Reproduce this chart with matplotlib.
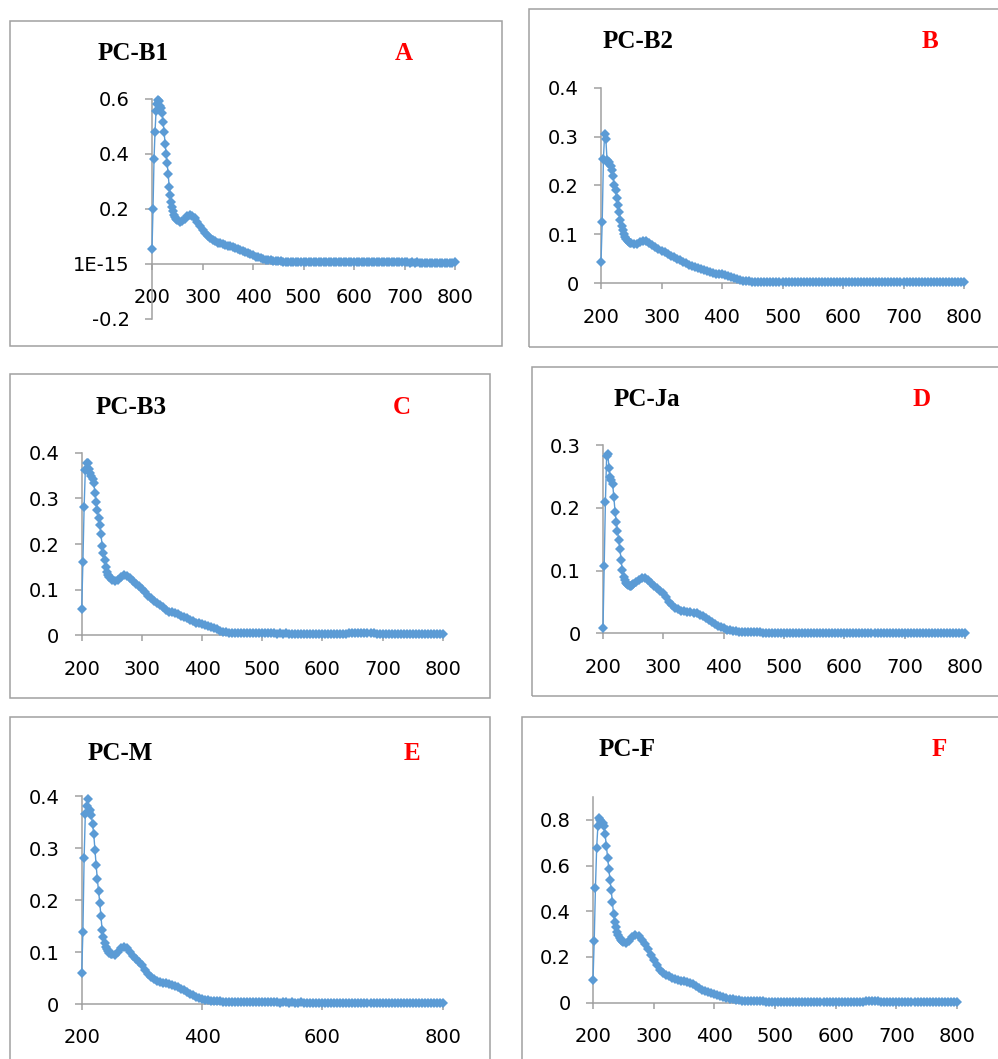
import matplotlib
matplotlib.use("Agg")
import matplotlib.pyplot as plt
from matplotlib.patches import Rectangle

# wavelength grid (nm), shared by all six spectra
wl = [200, 202, 204, 206, 208, 210, 212, 214, 216, 218, 220, 222, 224, 226, 228,
      230, 232, 234, 236, 238, 240, 242, 244, 246, 248, 250,
      255, 260, 265, 270, 275, 280, 285, 290, 295, 300, 305, 310, 315, 320,
      325, 330, 335, 340, 345, 350, 355, 360, 365, 370, 375, 380, 385, 390,
      395, 400, 405, 410, 415, 420, 425, 430, 435, 440, 445, 450,
      455, 460, 465, 470, 475, 480, 485, 490, 495, 500,
      505, 510, 515, 520, 525, 530, 535, 540, 545, 550,
      555, 560, 565, 570, 575, 580, 585, 590, 595, 600,
      605, 610, 615, 620, 625, 630, 635, 640, 645, 650,
      655, 660, 665, 670, 675, 680, 685, 690, 695, 700,
      705, 710, 715, 720, 725, 730, 735, 740, 745, 750,
      755, 760, 765, 770, 775, 780, 785, 790, 795, 800]

abs_b1 = [0.052, 0.20, 0.38, 0.48, 0.555, 0.58, 0.595, 0.59, 0.575, 0.565, 0.548,
          0.515, 0.478, 0.435, 0.40, 0.368, 0.328, 0.28, 0.25, 0.225, 0.205, 0.19,
          0.178, 0.17, 0.163, 0.158,
          0.153, 0.155, 0.163, 0.172, 0.176, 0.174, 0.165, 0.152, 0.138, 0.124,
          0.11, 0.099, 0.092, 0.086, 0.081, 0.077, 0.074, 0.071, 0.068, 0.066,
          0.063, 0.061, 0.058, 0.054, 0.050, 0.046, 0.042, 0.038, 0.034, 0.030,
          0.026, 0.023, 0.020, 0.017, 0.015, 0.013, 0.012, 0.011, 0.010, 0.0095,
          0.0085, 0.008, 0.0078, 0.0075, 0.0072, 0.007, 0.007, 0.0068, 0.0066, 0.0065,
          0.0064, 0.0062, 0.006, 0.0062, 0.006, 0.0058, 0.006, 0.0057, 0.0056, 0.0058,
          0.0055, 0.0054, 0.0056, 0.0053, 0.0052, 0.0055, 0.0051, 0.0052, 0.005, 0.0052,
          0.005, 0.0049, 0.0051, 0.0048, 0.005, 0.0047, 0.0049, 0.0046, 0.0048, 0.0047,
          0.005, 0.0052, 0.0049, 0.0046, 0.0047, 0.0045, 0.0046, 0.0044, 0.0046, 0.0048,
          0.0045, 0.0043, 0.0044, 0.0042, 0.0044, 0.0041, 0.0043, 0.0042, 0.004, 0.0042,
          0.0041, 0.0039, 0.0041, 0.004, 0.0038, 0.004, 0.0039, 0.0041, 0.0042, 0.0055]

abs_b2 = [0.043, 0.125, 0.255, 0.305, 0.295, 0.252, 0.245, 0.248, 0.24, 0.232, 0.22,
          0.20, 0.19, 0.175, 0.16, 0.145, 0.13, 0.118, 0.108, 0.10, 0.094, 0.09,
          0.087, 0.085, 0.083, 0.082,
          0.080, 0.081, 0.085, 0.087, 0.086, 0.083, 0.079, 0.075, 0.071, 0.067,
          0.063, 0.059, 0.056, 0.053, 0.050, 0.047, 0.044, 0.041, 0.038, 0.036,
          0.034, 0.032, 0.030, 0.028, 0.026, 0.024, 0.022, 0.020, 0.019, 0.018,
          0.017, 0.015, 0.013, 0.011, 0.009, 0.007, 0.0055, 0.0045, 0.004, 0.0035,
          0.0032, 0.003, 0.0028, 0.0031, 0.0027, 0.003, 0.0026, 0.0029, 0.0025, 0.0028,
          0.0026, 0.0024, 0.0027, 0.0025, 0.0023, 0.0026, 0.0024, 0.0027, 0.0023, 0.0025,
          0.0022, 0.0024, 0.0026, 0.0023, 0.0021, 0.0024, 0.0022, 0.0025, 0.0021, 0.0023,
          0.0022, 0.0026, 0.0024, 0.0021, 0.0023, 0.0027, 0.0024, 0.0022, 0.0025, 0.0021,
          0.0023, 0.0026, 0.0022, 0.0024, 0.0021, 0.0023, 0.0028, 0.0022, 0.0024, 0.0021,
          0.0023, 0.0021, 0.0024, 0.0022, 0.002, 0.0023, 0.0021, 0.0019, 0.0022, 0.0024,
          0.002, 0.0022, 0.0019, 0.0021, 0.0023, 0.002, 0.0022, 0.0021, 0.0024, 0.0026]

abs_b3 = [0.057, 0.161, 0.28, 0.362, 0.377, 0.377, 0.365, 0.356, 0.35, 0.342, 0.333,
          0.312, 0.293, 0.274, 0.258, 0.242, 0.222, 0.196, 0.18, 0.165, 0.15, 0.139,
          0.132, 0.128, 0.125, 0.122,
          0.120, 0.121, 0.127, 0.131, 0.130, 0.125, 0.118, 0.112, 0.107, 0.101,
          0.094, 0.087, 0.081, 0.076, 0.071, 0.066, 0.061, 0.056, 0.052, 0.050,
          0.048, 0.046, 0.043, 0.040, 0.037, 0.034, 0.031, 0.028, 0.026, 0.025,
          0.023, 0.021, 0.018, 0.016, 0.013, 0.010, 0.008, 0.007, 0.006, 0.0055,
          0.0052, 0.005, 0.0048, 0.0047, 0.0046, 0.0045, 0.0044, 0.0045, 0.0043, 0.0042,
          0.0043, 0.0041, 0.004, 0.0042, 0.0039, 0.004, 0.0038, 0.0041, 0.0037, 0.0039,
          0.0038, 0.0036, 0.0039, 0.0037, 0.0035, 0.0038, 0.0036, 0.0035, 0.0037, 0.0034,
          0.0036, 0.0035, 0.0037, 0.0034, 0.0036, 0.0035, 0.0038, 0.0036, 0.0041, 0.0048,
          0.0056, 0.006, 0.0057, 0.0052, 0.0047, 0.0043, 0.004, 0.0038, 0.0037, 0.0039,
          0.0036, 0.0035, 0.0037, 0.0034, 0.0033, 0.0035, 0.0032, 0.0034, 0.0031, 0.0033,
          0.0031, 0.003, 0.0032, 0.0029, 0.003, 0.0028, 0.003, 0.0029, 0.0031, 0.0035]

abs_ja = [0.008, 0.107, 0.21, 0.283, 0.286, 0.263, 0.25, 0.245, 0.238, 0.217, 0.194,
          0.178, 0.164, 0.149, 0.135, 0.117, 0.101, 0.09, 0.085, 0.08, 0.078, 0.077,
          0.075, 0.076, 0.077, 0.079,
          0.082, 0.085, 0.088, 0.088, 0.085, 0.080, 0.076, 0.072, 0.068, 0.064,
          0.058, 0.050, 0.045, 0.041, 0.038, 0.036, 0.035, 0.034, 0.034, 0.033,
          0.032, 0.030, 0.027, 0.024, 0.021, 0.018, 0.015, 0.012, 0.010, 0.008,
          0.006, 0.0045, 0.0035, 0.003, 0.0025, 0.002, 0.002, 0.0018, 0.0016, 0.0015,
          0.0014, 0.0013, 0.0012, 0.0012, 0.0011, 0.0011, 0.001, 0.0011, 0.001, 0.0009,
          0.001, 0.0009, 0.0009, 0.001, 0.0008, 0.0009, 0.0008, 0.0009, 0.0008, 0.0007,
          0.0008, 0.0007, 0.0009, 0.0007, 0.0006, 0.0008, 0.0007, 0.0009, 0.0007, 0.0006,
          0.0008, 0.0007, 0.0006, 0.0008, 0.0007, 0.0006, 0.0008, 0.0007, 0.0009, 0.0006,
          0.0008, 0.0007, 0.0009, 0.0008, 0.0006, 0.0008, 0.001, 0.0008, 0.0007, 0.0006,
          0.0008, 0.0007, 0.0006, 0.0008, 0.0007, 0.0006, 0.0008, 0.0007, 0.0006, 0.0008,
          0.0007, 0.0006, 0.0008, 0.0007, 0.0006, 0.0008, 0.0007, 0.0006, 0.0008, 0.0009]

abs_m = [0.059, 0.139, 0.28, 0.365, 0.38, 0.394, 0.37, 0.373, 0.363, 0.346, 0.327,
         0.297, 0.267, 0.24, 0.218, 0.195, 0.169, 0.142, 0.128, 0.117, 0.11, 0.105,
         0.101, 0.098, 0.097, 0.096,
         0.095, 0.100, 0.107, 0.110, 0.107, 0.100, 0.093, 0.087, 0.081, 0.075,
         0.066, 0.057, 0.051, 0.048, 0.045, 0.043, 0.041, 0.040, 0.038, 0.036,
         0.034, 0.032, 0.029, 0.026, 0.023, 0.020, 0.017, 0.014, 0.012, 0.010,
         0.008, 0.007, 0.006, 0.0055, 0.005, 0.005, 0.0048, 0.0045, 0.0042, 0.004,
         0.0038, 0.0036, 0.0035, 0.0034, 0.0035, 0.0033, 0.0032, 0.0034, 0.0031, 0.0032,
         0.0031, 0.003, 0.0032, 0.0029, 0.003, 0.0028, 0.0031, 0.0029, 0.0027, 0.0029,
         0.0028, 0.0026, 0.0029, 0.0027, 0.0025, 0.0028, 0.0026, 0.0024, 0.0027, 0.0025,
         0.0026, 0.0024, 0.0027, 0.0025, 0.0023, 0.0026, 0.0024, 0.0027, 0.0025, 0.0023,
         0.0026, 0.0024, 0.0022, 0.0025, 0.0023, 0.0026, 0.0022, 0.0024, 0.0021, 0.0023,
         0.0025, 0.0022, 0.0024, 0.0021, 0.0023, 0.0026, 0.0022, 0.0024, 0.0021, 0.0023,
         0.0021, 0.0024, 0.0022, 0.002, 0.0023, 0.0021, 0.0024, 0.0022, 0.0021, 0.0025]

abs_f = [0.098, 0.272, 0.50, 0.675, 0.772, 0.806, 0.80, 0.79, 0.787, 0.771, 0.736,
         0.686, 0.635, 0.584, 0.538, 0.493, 0.439, 0.386, 0.352, 0.33, 0.309, 0.295,
         0.283, 0.274, 0.268, 0.264,
         0.262, 0.270, 0.287, 0.295, 0.290, 0.274, 0.255, 0.234, 0.210, 0.186,
         0.163, 0.145, 0.132, 0.122, 0.115, 0.108, 0.103, 0.099, 0.096, 0.093,
         0.090, 0.086, 0.080, 0.072, 0.064, 0.057, 0.051, 0.046, 0.042, 0.038,
         0.034, 0.030, 0.026, 0.022, 0.018, 0.015, 0.012, 0.010, 0.008, 0.007,
         0.0065, 0.006, 0.0058, 0.0056, 0.0055, 0.0053, 0.0052, 0.005, 0.0051, 0.0049,
         0.0048, 0.0049, 0.0047, 0.0046, 0.0048, 0.0045, 0.0046, 0.0044, 0.0045, 0.0043,
         0.0044, 0.0042, 0.0043, 0.0041, 0.0042, 0.004, 0.0042, 0.0039, 0.0041, 0.0039,
         0.004, 0.0038, 0.004, 0.0037, 0.0039, 0.0038, 0.0041, 0.0044, 0.005, 0.0058,
         0.0066, 0.0072, 0.0068, 0.006, 0.0052, 0.0046, 0.0043, 0.0041, 0.004, 0.0038,
         0.0039, 0.0037, 0.0038, 0.0036, 0.0035, 0.0037, 0.0034, 0.0036, 0.0033, 0.0035,
         0.0033, 0.0032, 0.0034, 0.0031, 0.0032, 0.003, 0.0032, 0.0031, 0.0033, 0.0035]

# panel layout in pixels: axes (left, right, top, bottom), box (x0, y0, x1, y1)
panels = [
    dict(y=abs_b1, name="PC-B1", tag="A", ax=(152, 455, 98.7, 318.7), ylim=(-0.2, 0.6),
         yticks=[-0.2, 0, 0.2, 0.4, 0.6], ylabels=["-0.2", "1E-15", "0.2", "0.4", "0.6"],
         xticks=[200, 300, 400, 500, 600, 700, 800], title=(98, 53), tagpos=(404, 53),
         box=(10, 21, 502, 346)),
    dict(y=abs_b2, name="PC-B2", tag="B", ax=(601, 964, 87.7, 283.3), ylim=(0, 0.4),
         yticks=[0, 0.1, 0.2, 0.3, 0.4], ylabels=["0", "0.1", "0.2", "0.3", "0.4"],
         xticks=[200, 300, 400, 500, 600, 700, 800], title=(603, 42), tagpos=(930, 42),
         box=(529, 9, 1010, 347)),
    dict(y=abs_b3, name="PC-B3", tag="C", ax=(81.7, 442.7, 452.7, 635.3), ylim=(0, 0.4),
         yticks=[0, 0.1, 0.2, 0.3, 0.4], ylabels=["0", "0.1", "0.2", "0.3", "0.4"],
         xticks=[200, 300, 400, 500, 600, 700, 800], title=(96, 408), tagpos=(402, 408),
         box=(10, 374, 490, 698)),
    dict(y=abs_ja, name="PC-Ja", tag="D", ax=(603, 965, 445.3, 633.3), ylim=(0, 0.3),
         yticks=[0, 0.1, 0.2, 0.3], ylabels=["0", "0.1", "0.2", "0.3"],
         xticks=[200, 300, 400, 500, 600, 700, 800], title=(614, 399), tagpos=(922, 399),
         box=(532, 367, 1010, 696)),
    dict(y=abs_m, name="PC-M", tag="E", ax=(81.7, 442.7, 796, 1004), ylim=(0, 0.4),
         yticks=[0, 0.1, 0.2, 0.3, 0.4], ylabels=["0", "0.1", "0.2", "0.3", "0.4"],
         xticks=[200, 400, 600, 800], title=(88, 753), tagpos=(412, 753),
         box=(10, 717, 490, 1070)),
    dict(y=abs_f, name="PC-F", tag="F", ax=(593, 957, 797, 1002.7), ylim=(0, 0.9),
         yticks=[0, 0.2, 0.4, 0.6, 0.8], ylabels=["0", "0.2", "0.4", "0.6", "0.8"],
         xticks=[200, 300, 400, 500, 600, 700, 800], title=(599, 750), tagpos=(939, 750),
         box=(522, 717, 1010, 1070)),
]

W, H = 998, 1059
blue = "#5B9BD5"
gray = "#A0A0A0"

fig = plt.figure(figsize=(W / 100, H / 100), dpi=100)

for p in panels:
    x0, y0, x1, y1 = p["box"]
    fig.patches.append(Rectangle((x0 / W, 1 - y1 / H), (x1 - x0) / W, (y1 - y0) / H,
                                 transform=fig.transFigure, fill=False,
                                 edgecolor=gray, linewidth=1.1))

    l, r, t, b = p["ax"]
    ax = fig.add_axes([l / W, 1 - b / H, (r - l) / W, (b - t) / H])
    ax.plot(wl, p["y"], color=blue, linewidth=1.0, marker="D", markersize=4.6,
            markeredgewidth=0, clip_on=False, zorder=3)
    ax.set_xlim(200, 800)
    ax.set_ylim(*p["ylim"])
    ax.set_facecolor("none")

    for s in ["top", "right"]:
        ax.spines[s].set_visible(False)
    ax.spines["bottom"].set_position(("data", 0))
    for s in ["left", "bottom"]:
        ax.spines[s].set_color(gray)
        ax.spines[s].set_linewidth(1.1)

    ax.set_xticks(p["xticks"])
    ax.set_xticklabels([str(v) for v in p["xticks"]])
    ax.set_yticks(p["yticks"])
    ax.set_yticklabels(p["ylabels"])
    ax.tick_params(axis="x", direction="out", length=4.5, width=1.1, color=gray,
                   pad=13, labelsize=14, labelcolor="black")
    ax.tick_params(axis="y", direction="out", length=5, width=1.1, color=gray,
                   pad=11, labelsize=14, labelcolor="black")
    for lab in ax.get_xticklabels() + ax.get_yticklabels():
        lab.set_fontfamily("DejaVu Sans")

    tx, ty = p["title"]
    fig.text(tx / W, 1 - ty / H, p["name"], ha="left", va="center",
             fontfamily="Liberation Serif", fontweight="bold", fontsize=18)
    gx, gy = p["tagpos"]
    fig.text(gx / W, 1 - gy / H, p["tag"], ha="center", va="center", color="red",
             fontfamily="Liberation Serif", fontweight="bold", fontsize=18)

fig.savefig("out.png", dpi=100)
